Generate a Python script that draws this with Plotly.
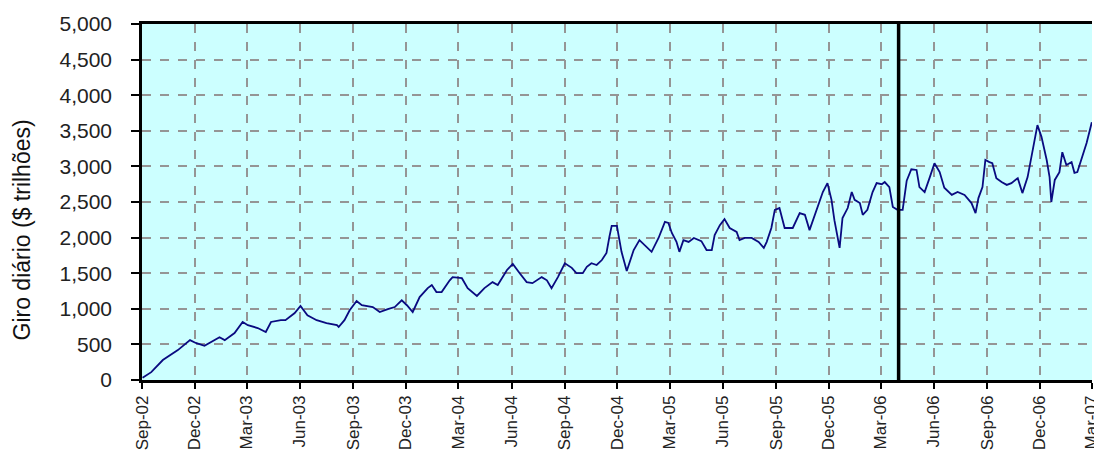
import plotly.graph_objects as go

dates = [
    "2002-09-02", "2002-09-17", "2002-10-07", "2002-10-19", "2002-11-02", "2002-11-23",
    "2002-12-03", "2002-12-18", "2002-12-29", "2003-01-13", "2003-01-22", "2003-02-08",
    "2003-02-22", "2003-03-03", "2003-03-20", "2003-04-03", "2003-04-12", "2003-04-29",
    "2003-05-07", "2003-05-23", "2003-06-02", "2003-06-14", "2003-06-30", "2003-07-17",
    "2003-08-04", "2003-08-07", "2003-08-17", "2003-08-26", "2003-09-07", "2003-09-16",
    "2003-10-05", "2003-10-17", "2003-10-31", "2003-11-12", "2003-11-24", "2003-12-03",
    "2003-12-13", "2003-12-25", "2004-01-08", "2004-01-15", "2004-01-23", "2004-02-01",
    "2004-02-15", "2004-02-20", "2004-03-07", "2004-03-17", "2004-04-02", "2004-04-15",
    "2004-04-29", "2004-05-08", "2004-05-24", "2004-06-03", "2004-06-15", "2004-06-27",
    "2004-07-07", "2004-07-23", "2004-08-01", "2004-08-09", "2004-08-20", "2004-09-01",
    "2004-09-13", "2004-09-21", "2004-10-02", "2004-10-09", "2004-10-17", "2004-10-26",
    "2004-11-04", "2004-11-12", "2004-11-17", "2004-11-21", "2004-11-30", "2004-12-05",
    "2004-12-08", "2004-12-17", "2004-12-29", "2005-01-08", "2005-01-17", "2005-01-29",
    "2005-02-10", "2005-02-21", "2005-02-27", "2005-03-05", "2005-03-13", "2005-03-18",
    "2005-03-25", "2005-04-03", "2005-04-12", "2005-04-25", "2005-05-04", "2005-05-13",
    "2005-05-18", "2005-05-27", "2005-06-04", "2005-06-13", "2005-06-25", "2005-06-30",
    "2005-07-09", "2005-07-21", "2005-08-02", "2005-08-11", "2005-08-16", "2005-08-24",
    "2005-08-30", "2005-09-07", "2005-09-16", "2005-09-30", "2005-10-12", "2005-10-21",
    "2005-10-29", "2005-11-10", "2005-11-21", "2005-11-29", "2005-12-06", "2005-12-11",
    "2005-12-20", "2005-12-25", "2006-01-03", "2006-01-10", "2006-01-15", "2006-01-24",
    "2006-01-29", "2006-02-06", "2006-02-15", "2006-02-22", "2006-03-03", "2006-03-08",
    "2006-03-16", "2006-03-22", "2006-03-30", "2006-04-08", "2006-04-15", "2006-04-23",
    "2006-05-02", "2006-05-07", "2006-05-16", "2006-05-25", "2006-06-02", "2006-06-11",
    "2006-06-19", "2006-07-02", "2006-07-12", "2006-07-24", "2006-08-05", "2006-08-12",
    "2006-08-17", "2006-08-24", "2006-08-29", "2006-09-05", "2006-09-10", "2006-09-17",
    "2006-09-26", "2006-10-05", "2006-10-13", "2006-10-24", "2006-11-01", "2006-11-10",
    "2006-11-19", "2006-11-27", "2006-12-04", "2006-12-13", "2006-12-18", "2006-12-21",
    "2006-12-27", "2007-01-04", "2007-01-09", "2007-01-16", "2007-01-25", "2007-01-30",
    "2007-02-04", "2007-02-11", "2007-02-20", "2007-03-01",
]

giro = [
    30, 110, 280, 350, 420, 560,
    520, 480, 530, 600, 560, 660,
    815, 770, 730, 675, 815, 840,
    840, 940, 1040, 910, 840, 800,
    770, 745, 840, 980, 1110, 1050,
    1025, 955, 995, 1025, 1120, 1050,
    955, 1165, 1290, 1335, 1235, 1235,
    1400, 1445, 1430, 1290, 1180, 1290,
    1375, 1335, 1545, 1630, 1500, 1375,
    1360, 1445, 1400, 1290, 1445, 1640,
    1575, 1500, 1500, 1590, 1640, 1615,
    1685, 1785, 2010, 2165, 2165, 1940,
    1800, 1530, 1825, 1965, 1895, 1800,
    1995, 2220, 2205, 2065, 1940, 1800,
    1965, 1940, 1995, 1950, 1825, 1825,
    2035, 2175, 2260, 2135, 2080, 1965,
    1995, 1995, 1940, 1855, 1940, 2135,
    2390, 2415, 2135, 2135, 2345, 2320,
    2105, 2390, 2640, 2765, 2530, 2245,
    1855, 2275, 2415, 2640, 2530, 2485,
    2320, 2390, 2640, 2765, 2750, 2780,
    2710, 2430, 2390, 2390, 2800, 2960,
    2950, 2710, 2640, 2850, 3045, 2920,
    2700, 2600, 2640, 2600, 2485, 2345,
    2555, 2710, 3090, 3060, 3045, 2835,
    2780, 2740, 2765, 2835, 2625, 2850,
    3230, 3580, 3415, 3090, 2850, 2500,
    2810, 2920, 3200, 3020, 3060, 2910,
    2920, 3090, 3330, 3620,
]

marker_date = "2006-04-01"
y_title = "Giro diário ($ trilhões)"
x_start, x_end = "2002-09-01", "2007-03-01 08:00"

FONT = "Liberation Sans, Arial, sans-serif"

fig = go.Figure()
fig.add_trace(go.Scatter(
    x=dates, y=giro, mode="lines",
    line=dict(color="#0a0a80", width=1.8),
    showlegend=False, hoverinfo="x+y",
))

fig.add_shape(type="line", xref="x", yref="paper",
              x0=marker_date, x1=marker_date, y0=0, y1=1,
              line=dict(color="black", width=3.5))

fig.update_layout(
    width=1094, height=457,
    margin=dict(l=142, r=2, t=24, b=77, autoexpand=False),
    paper_bgcolor="white",
    plot_bgcolor="#ccffff",
    font=dict(family=FONT, color="#222"),
    annotations=[dict(
        text=y_title, xref="paper", yref="paper",
        x=-120 / 950, y=0.42, xanchor="center", yanchor="middle",
        textangle=-90, showarrow=False,
        font=dict(family=FONT, size=23, color="#111"),
    )],
)

fig.update_xaxes(
    type="date", range=[x_start, x_end], automargin=False,
    tick0="2002-09-01", dtick="M3", tickformat="%b-%y",
    tickangle=-90, tickfont=dict(size=17, color="#222"),
    ticklabeloverflow="allow",
    ticks="outside", ticklen=6, tickwidth=1.5, tickcolor="black",
    showgrid=True, gridcolor="#959595", gridwidth=1.8, griddash="dash",
    showline=True, linecolor="black", linewidth=2.5, mirror=True,
    zeroline=False,
)
fig.update_yaxes(
    range=[0, 5000], dtick=500, tickformat=",", automargin=False,
    tickfont=dict(size=21, color="#222"), ticklabelstandoff=15,
    ticks="outside", ticklen=8, tickwidth=1.5, tickcolor="black",
    showgrid=True, gridcolor="#959595", gridwidth=1.8, griddash="dash",
    showline=True, linecolor="black", linewidth=2.5,
    zeroline=False,
)

fig.write_html(
    "out.html",
    config={"displayModeBar": False},
    post_script="document.body.style.margin='0';document.body.style.overflow='hidden';",
)
